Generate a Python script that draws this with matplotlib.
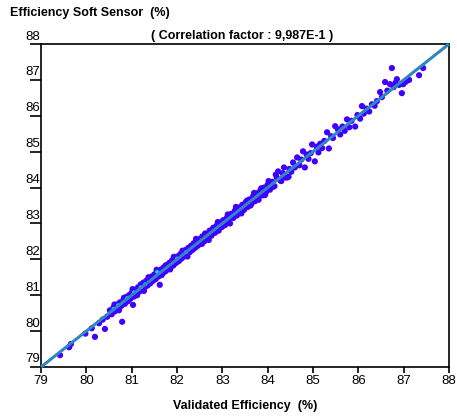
import matplotlib
matplotlib.use("Agg")
import matplotlib.pyplot as plt
import matplotlib.transforms as mtransforms

plt.rcParams['font.family'] = ['Liberation Sans', 'DejaVu Sans']

title_y = "Efficiency Soft Sensor  (%)"
title_corr = "( Correlation factor : 9,987E-1 )"
xlabel = "Validated Efficiency  (%)"
ticks = [79, 80, 81, 82, 83, 84, 85, 86, 87, 88]
diag = [79, 88]

validated = [
    79.42, 79.62, 79.66, 79.98, 80.12, 80.19, 80.28, 80.36, 80.41, 80.46,
    80.52, 80.56, 80.60, 80.63, 80.67, 80.70, 80.74, 80.77, 80.79, 80.82, 80.85, 80.88, 80.91, 80.94, 80.97,
    81.00, 81.03, 81.05, 81.08, 81.11, 81.14, 81.17, 81.20, 81.23, 81.26, 81.29, 81.32, 81.35, 81.38, 81.41, 81.44, 81.47,
    81.50, 81.53, 81.56, 81.59, 81.62, 81.65, 81.68, 81.71, 81.74, 81.77, 81.80, 81.83, 81.86, 81.89, 81.92, 81.95, 81.98,
    82.01, 82.04, 82.07, 82.10, 82.13, 82.16, 82.19, 82.22, 82.25, 82.28, 82.31, 82.34, 82.37, 82.40, 82.43, 82.46, 82.49,
    82.52, 82.56, 82.60, 82.64, 82.68, 82.72, 82.76, 82.80, 82.84, 82.88, 82.92, 82.96, 82.99,
    83.02, 83.06, 83.10, 83.14, 83.17, 83.20, 83.24, 83.28, 83.32, 83.36, 83.40, 83.44, 83.48,
    83.52, 83.56, 83.60, 83.64, 83.68, 83.72, 83.76, 83.80, 83.84, 83.88, 83.92, 83.96,
    84.00, 84.05, 84.10, 84.15, 84.20, 84.23, 84.28, 84.33, 84.38, 84.43, 84.48,
    84.52, 84.56, 84.60, 84.65, 84.70, 84.74, 84.78, 84.82, 84.86, 84.90, 84.95, 84.98,
    85.04, 85.08, 85.12, 85.16, 85.20, 85.25, 85.31, 85.35, 85.40, 85.44, 85.49,
    85.55, 85.60, 85.65, 85.70, 85.75, 85.80, 85.85, 85.93, 85.98, 86.04, 86.08, 86.12, 86.18, 86.24, 86.30, 86.36, 86.41, 86.48,
    86.52, 86.59, 86.64, 86.70, 86.74, 86.78, 86.82, 86.85, 86.90, 86.96, 86.99, 87.05, 87.12, 87.34, 87.43,
    80.62, 80.72, 80.83, 80.93, 81.02, 81.12, 81.18, 81.27, 81.37, 81.43, 81.55, 81.66, 81.75, 81.85,
    81.93, 82.05, 82.12, 82.23, 82.30, 82.42, 82.55, 82.62, 82.70, 82.82, 82.90, 83.05, 83.12, 83.22,
    83.30, 83.42, 83.55, 83.62, 83.70, 83.78, 83.86, 83.94, 84.02, 84.12, 84.18, 84.30, 84.36, 84.46,
]
soft_sensor = [
    79.33, 79.55, 79.64, 79.93, 80.08, 79.84, 80.22, 80.32, 80.06, 80.40,
    80.58, 80.47, 80.66, 80.55, 80.74, 80.62, 80.80, 80.70, 80.26, 80.88, 80.76, 80.95, 80.83, 81.00, 80.90,
    81.07, 80.73, 80.96, 81.15, 81.03, 81.22, 81.10, 81.30, 81.16, 81.35, 81.22, 81.40, 81.27, 81.46, 81.33, 81.52, 81.40,
    81.58, 81.45, 81.63, 81.52, 81.29, 81.72, 81.60, 81.78, 81.66, 81.84, 81.72, 81.90, 81.78, 81.97, 81.83, 82.03, 81.90,
    82.08, 81.95, 82.14, 82.02, 82.20, 82.08, 82.26, 82.14, 82.32, 82.20, 82.38, 82.26, 82.45, 82.32, 82.50, 82.38, 82.56,
    82.44, 82.64, 82.50, 82.71, 82.58, 82.80, 82.66, 82.88, 82.74, 82.95, 82.80, 83.02, 82.90,
    83.09, 82.96, 83.16, 83.05, 83.00, 83.27, 83.15, 83.36, 83.22, 83.44, 83.30, 83.52, 83.38,
    83.60, 83.46, 83.67, 83.54, 83.76, 83.62, 83.84, 83.66, 83.92, 83.78, 84.00, 83.86,
    84.08, 83.94, 84.16, 84.04, 84.28, 84.45, 84.20, 84.40, 84.28, 84.28, 84.52,
    84.44, 84.70, 84.56, 84.84, 84.62, 84.78, 85.01, 84.56, 84.92, 84.80, 84.96, 85.20,
    84.73, 85.14, 84.98, 85.22, 85.10, 85.30, 85.54, 85.09, 85.43, 85.38, 85.71,
    85.62, 85.48, 85.70, 85.58, 85.90, 85.68, 85.86, 85.70, 86.02, 85.92, 86.27, 86.06, 86.20, 86.12, 86.32, 86.28, 86.41, 86.66,
    86.52, 86.94, 86.70, 86.88, 87.33, 86.80, 86.92, 87.02, 86.86, 86.63, 86.88, 86.95, 87.00, 87.13, 87.33,
    80.74, 80.58, 80.93, 80.85, 81.17, 81.00, 81.23, 81.12, 81.50, 81.39, 81.71, 81.56, 81.83, 81.72,
    82.07, 81.99, 82.24, 82.08, 82.33, 82.57, 82.43, 82.72, 82.54, 82.88, 83.04, 82.95, 83.25, 83.17,
    83.46, 83.28, 83.64, 83.50, 83.85, 83.71, 83.98, 83.79, 84.18, 84.02, 84.36, 84.18, 84.56, 84.30,
]
cyan_x = [80.60, 80.70, 80.90, 81.05, 81.20, 81.30, 81.56, 81.60, 82.00, 82.20]
cyan_y = [80.62, 80.72, 80.92, 81.08, 81.22, 81.31, 81.65, 81.62, 82.02, 82.20]

fig = plt.figure(figsize=(4.57, 4.16), dpi=100)
ax = fig.add_axes([41/457, 49/416, 408/457, 323/416])

ax.scatter(validated, soft_sensor, s=20, color='#4000ff', edgecolors='none', zorder=2)
ax.scatter(cyan_x, cyan_y, s=8, color='#00d8ff', edgecolors='none', zorder=2.5)
ax.plot(diag, diag, color='#2f86c0', linewidth=2.2, zorder=3, clip_on=False, solid_capstyle='butt')

ax.set_xlim(79, 88)
ax.set_ylim(79, 88)
ax.set_xticks(ticks)
ax.set_yticks(ticks)
ax.set_xticklabels([str(t) for t in ticks])
ax.set_yticklabels([str(t) for t in ticks])
for sp in ax.spines.values():
    sp.set_linewidth(1.2)
ax.tick_params(axis='x', direction='out', length=4, width=1.2, pad=2, labelsize=9.5)
ax.tick_params(axis='y', direction='out', length=8, width=1.2, pad=-8, labelsize=9.5)
off = mtransforms.ScaledTranslation(-1/100, 1.5/100, fig.dpi_scale_trans)
for lbl in ax.get_yticklabels():
    lbl.set_verticalalignment('bottom')
    lbl.set_transform(lbl.get_transform() + off)

ax.set_xlabel(xlabel, fontsize=9, fontweight='bold', labelpad=9)
fig.text(10/457, 1 - 13/416, title_y, fontsize=9, fontweight='bold', ha='left', va='center')
fig.text(242/457, 1 - 36/416, title_corr, fontsize=9, fontweight='bold', ha='center', va='center')

fig.savefig("out.png", dpi=100)
